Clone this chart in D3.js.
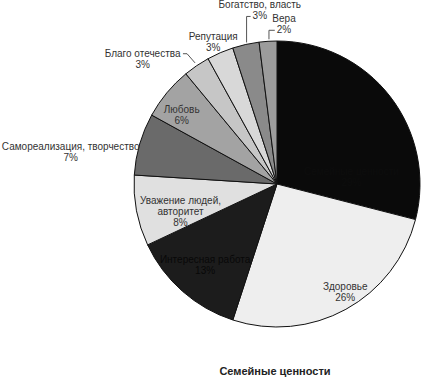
<!DOCTYPE html>
<html>
<head>
<meta charset="utf-8">
<script src="https://cdn.jsdelivr.net/npm/d3@7"></script>
<style>
  body { margin: 0; background: #fff; }
  text { font-family: "Liberation Sans", Arial, sans-serif; }
</style>
</head>
<body>
<div id="chart"></div>
<script>
// данные
let categories = ['Семейные ценности', 'Здоровье', 'Интересная работа', 'Уважение людей, авторитет',
    'Самореализация, творчество', 'Любовь', 'Благо отечества', 'Репутация', 'Богатство, власть', 'Вера'];
let values = [29, 26, 13, 8, 7, 6, 3, 3, 3, 2];
let labelLines = [
    ['Семейные ценности', '29%'],
    ['Здоровье', '26%'],
    ['Интересная работа', '13%'],
    ['Уважение людей,', 'авторитет', '8%'],
    ['Самореализация,  творчество', '7%'],
    ['Любовь', '6%'],
    ['Благо отечества', '3%'],
    ['Репутация', '3%'],
    ['Богатство, власть', '3%'],
    ['Вера', '2%']
];
let title = 'Семейные ценности';

let colors = ['#0a0a0a', '#eeeeee', '#1c1c1c', '#e0e0e0', '#6a6a6a', '#a3a3a3', '#c6c6c6', '#d8d8d8', '#8a8a8a', '#9c9c9c'];
let textColors = ['#0d0d0d', '#333', '#080808', '#333', '#333', '#333', '#333', '#333', '#333', '#333'];

// размещение подписей: k - доля радиуса, [dx, dy] - сдвиг, leader - выноска
let labelLayout = [
    { k: 0.65, dx: 1, dy: 50 },
    { k: 0.86, dx: 9, dy: 0 },
    { k: 0.75, dx: -1, dy: 1 },
    { k: 0.68, dx: -1, dy: 9 },
    { k: 1.0, dx: -69, dy: 8 },
    { k: 0.82, dx: -5, dy: 6 },
    { k: 1.0, dx: -54, dy: -7, leader: 'side' },
    { k: 1.0, dx: -7, dy: -11 },
    { k: 1.0, dx: 14, dy: -34, leader: 'up' },
    { k: 1.0, dx: 16, dy: -17, leader: 'up' }
];

let width = 426, height = 380;
let cx = 277, cy = 184, radius = 143;
let lineH = 11;

let svg = d3.select('#chart').append('svg')
    .attr('width', width)
    .attr('height', height);

let pie = d3.pie().sort(null).value(d => d);
let arcs = pie(values);
let arc = d3.arc().innerRadius(0).outerRadius(radius);

let g = svg.append('g').attr('transform', `translate(${cx},${cy})`);

g.selectAll('path.slice')
    .data(arcs)
    .enter().append('path')
    .attr('class', 'slice')
    .attr('d', arc)
    .style('fill', (d, i) => colors[i])
    .style('stroke', '#111')
    .style('stroke-width', '1px');

// подписи
arcs.forEach((d, i) => {
    let lay = labelLayout[i];
    let mid = (d.startAngle + d.endAngle) / 2;
    let r = radius * lay.k;
    let px = Math.sin(mid) * r + lay.dx;
    let py = -Math.cos(mid) * r + lay.dy;
    let lines = labelLines[i];
    let top = py - (lines.length - 1) * lineH / 2 + 3.5;

    let t = g.append('text')
        .attr('text-anchor', 'middle')
        .style('font-size', '10px')
        .style('fill', textColors[i]);
    lines.forEach((s, j) => {
        t.append('tspan').attr('x', px).attr('y', top + j * lineH).text(s);
    });

    if (lay.leader) {
        let ex = Math.sin(mid) * (radius + 1);
        let ey = -Math.cos(mid) * (radius + 1);
        let pts;
        if (lay.leader === 'side') {
            let bb = t.node().getBBox();
            let ly = top - 3;
            pts = [[bb.x + bb.width + 2, ly], [ex - 9, ly], [ex - 1, ey - 2]];
        } else {
            let pctW = t.select('tspan:last-child').node().getComputedTextLength();
            let ly = top + (lines.length - 1) * lineH - 3;
            let lx = px - pctW / 2 - 2;
            pts = [[lx, ly], [ex + 1, ly], [ex + 1, ey - 1]];
        }
        g.append('path')
            .attr('d', d3.line()(pts))
            .style('fill', 'none')
            .style('stroke', '#555')
            .style('stroke-width', '1px');
    }
});

svg.append('text')
    .attr('x', 275)
    .attr('y', 375)
    .attr('text-anchor', 'middle')
    .style('font-size', '11px')
    .style('font-weight', 'bold')
    .style('fill', '#222')
    .text(title);
</script>
</body>
</html>
